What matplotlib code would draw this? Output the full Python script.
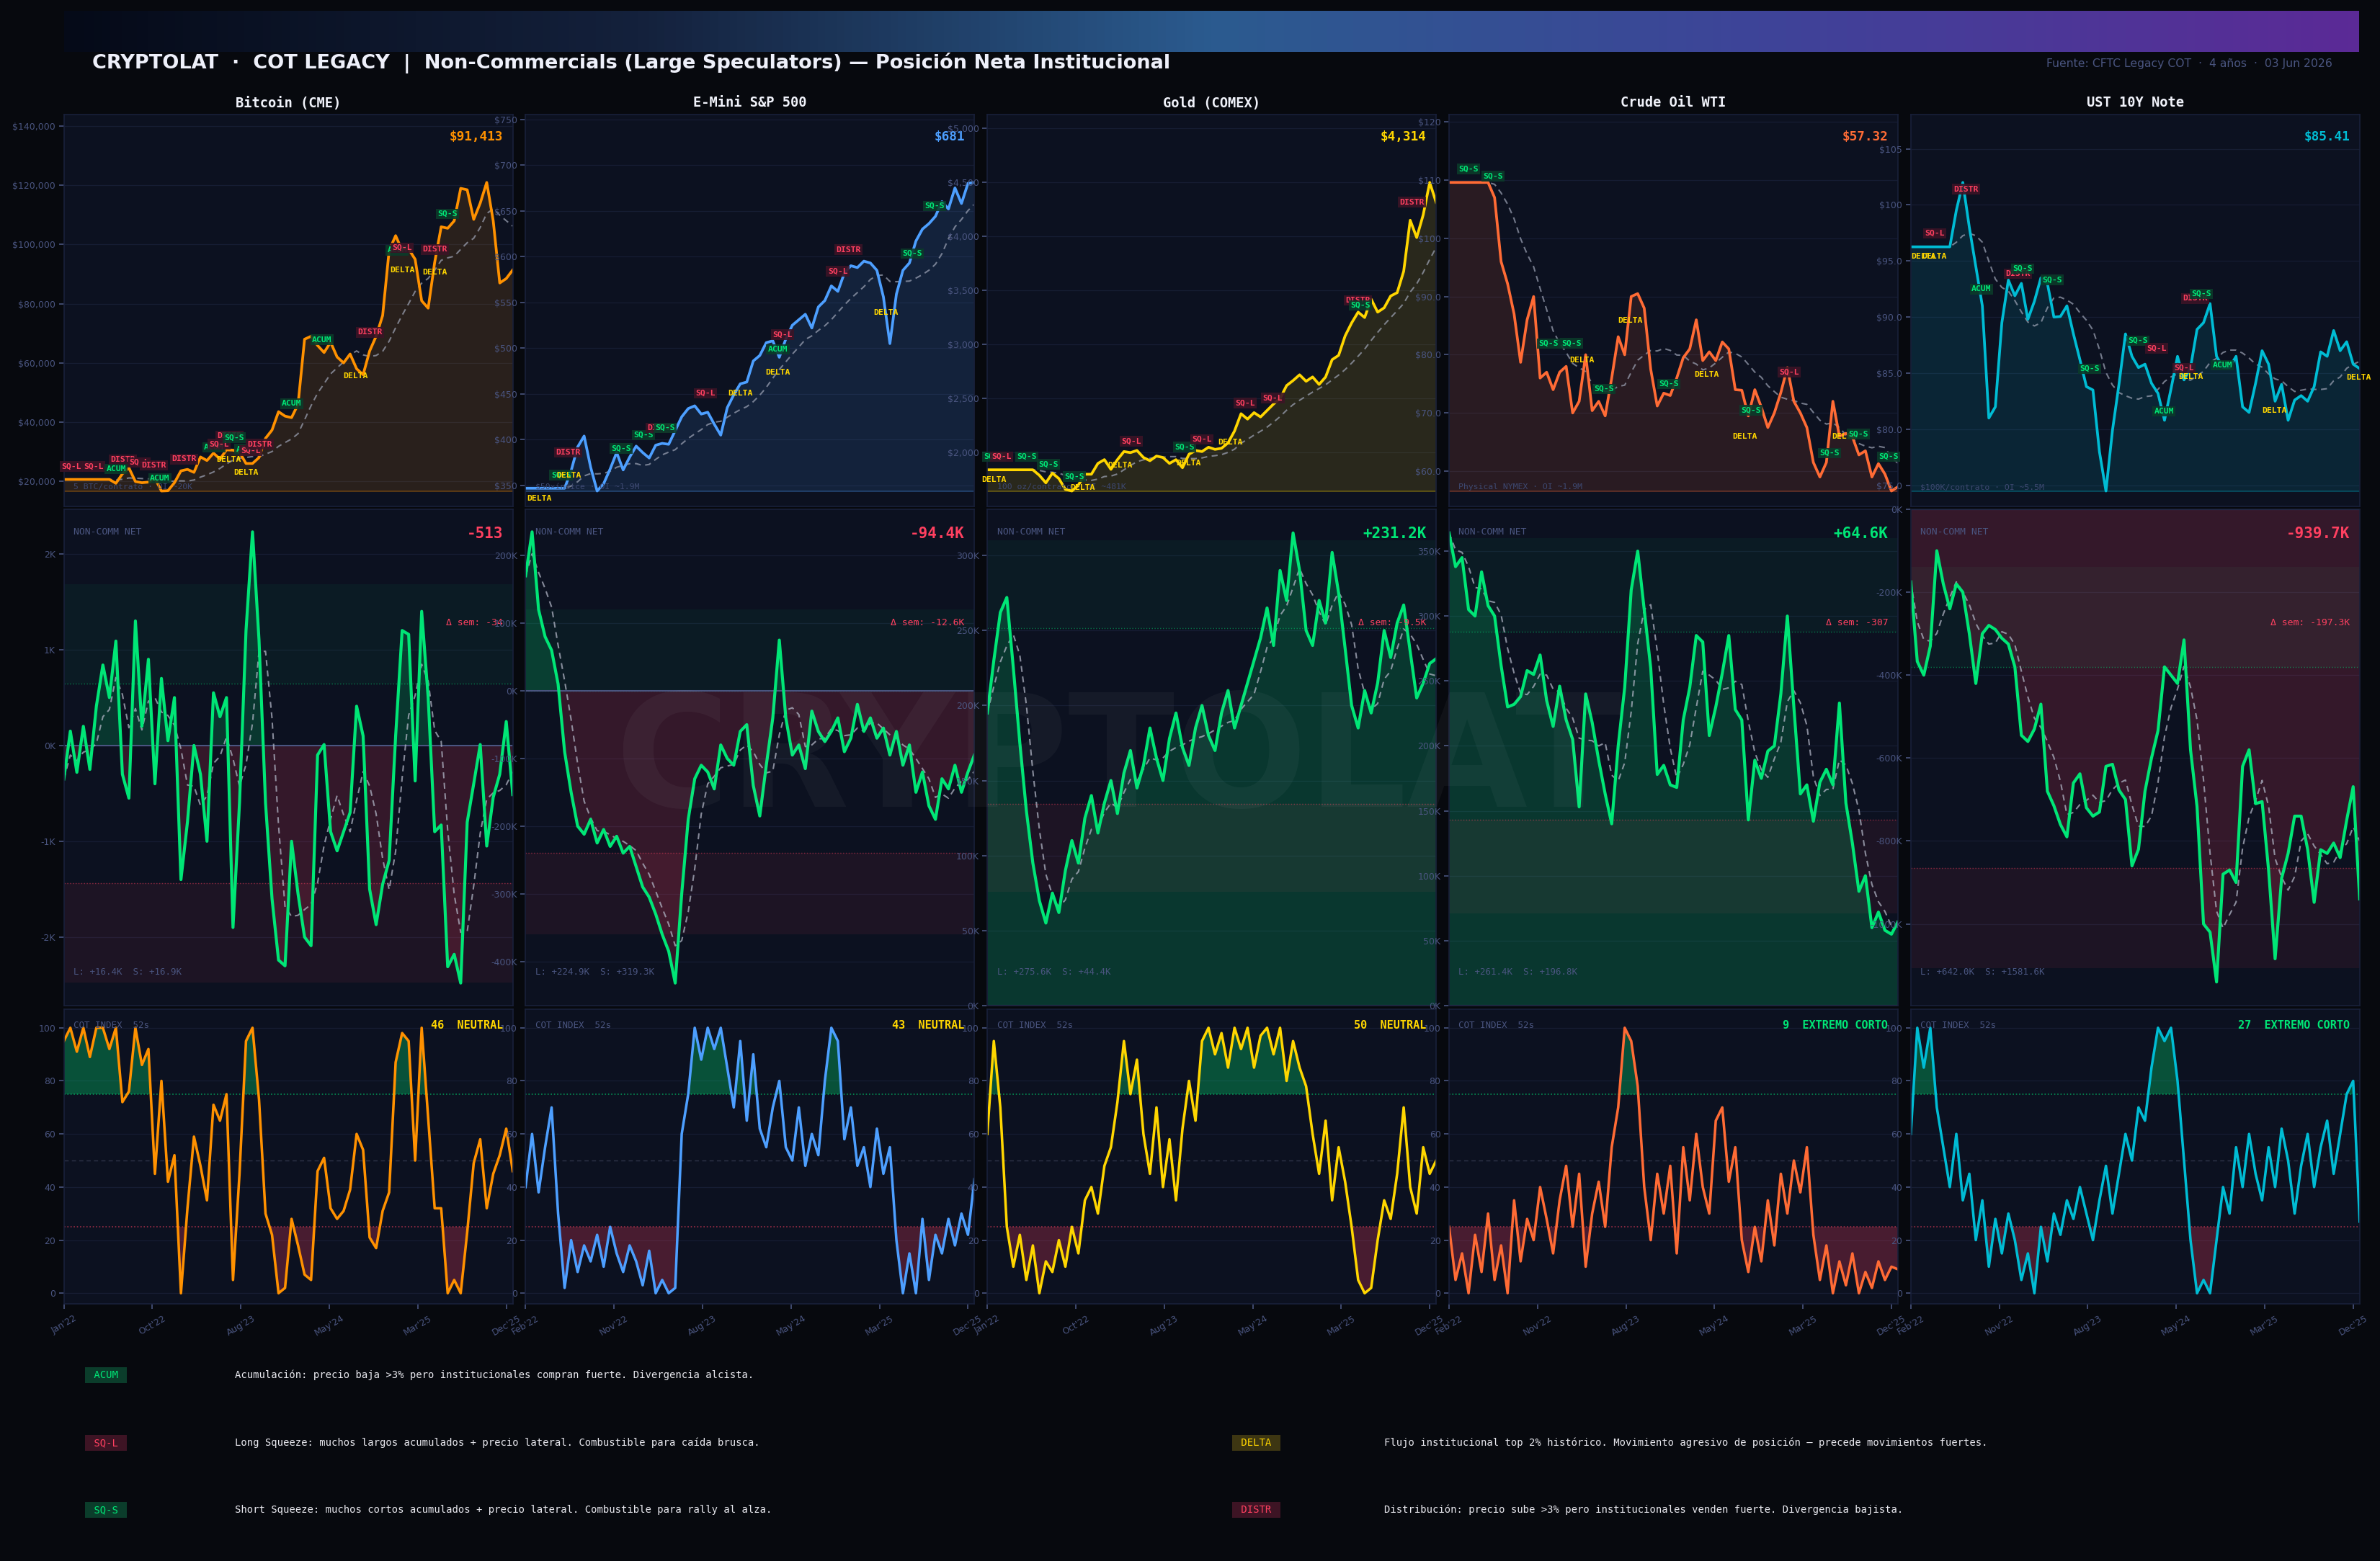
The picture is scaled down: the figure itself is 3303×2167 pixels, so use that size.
import numpy as np
import pandas as pd
import matplotlib
matplotlib.use("Agg")
import matplotlib.pyplot as plt
from matplotlib.ticker import FuncFormatter, MaxNLocator
from matplotlib.colors import LinearSegmentedColormap

# ======================= DATA =======================
assets = ["Bitcoin (CME)", "E-Mini S&P 500", "Gold (COMEX)", "Crude Oil WTI", "UST 10Y Note"]
weeks_span = 208
tick_weeks = [0, 41, 82, 123, 164, 205]
tick_labels = [
    ["Jan'22", "Oct'22", "Aug'23", "May'24", "Mar'25", "Dec'25"],
    ["Feb'22", "Nov'22", "Aug'23", "May'24", "Mar'25", "Dec'25"],
    ["Jan'22", "Oct'22", "Aug'23", "May'24", "Mar'25", "Dec'25"],
    ["Feb'22", "Nov'22", "Aug'23", "May'24", "Mar'25", "Dec'25"],
    ["Feb'22", "Nov'22", "Aug'23", "May'24", "Mar'25", "Dec'25"],
]

btc_price = [20600, 20600, 20600, 20600, 20600, 20600, 20600, 20600, 19300, 22500,
             24500, 19900, 19500, 19700, 21000, 16700, 16800, 19500, 23500, 24000,
             23000, 28200, 27000, 29500, 27500, 30600, 30500, 29800, 26000, 26000,
             28000, 34500, 37300, 43500, 42000, 41500, 46000, 68000, 69000, 65900,
             63500, 67000, 62000, 60000, 63000, 58000, 56000, 64000, 69000, 76000,
             98000, 103000, 98000, 98500, 95000, 81000, 78500, 94000, 106000, 105500,
             108000, 119000, 118500, 108500, 114000, 121000, 108000, 87000, 88500, 91413]
spx_price = [347, 347, 347, 347, 347, 347, 347, 366, 392, 404,
             370, 344, 352, 368, 386, 367, 381, 393, 386, 380,
             394, 396, 395, 410, 425, 434, 437, 428, 430, 417,
             405, 435, 449, 461, 463, 486, 492, 506, 508, 490,
             510, 525, 531, 537, 522, 545, 552, 568, 562, 582,
             590, 588, 595, 593, 585, 556, 505, 559, 585, 593,
             617, 630, 636, 644, 660, 652, 675, 658, 680, 681]
gold_price = [1841, 1841, 1841, 1841, 1841, 1841, 1841, 1841, 1790, 1720,
              1810, 1760, 1660, 1645, 1700, 1800, 1800, 1900, 1935, 1845,
              1935, 2010, 2000, 2020, 1955, 1925, 1968, 1955, 1900, 1935,
              1860, 1985, 2020, 2010, 2050, 2030, 2040, 2090, 2200, 2360,
              2310, 2370, 2330, 2390, 2450, 2500, 2620, 2667, 2720, 2660,
              2700, 2631, 2700, 2860, 2900, 3080, 3200, 3300, 3250, 3420,
              3300, 3340, 3449, 3480, 3678, 4150, 3990, 4200, 4500, 4314]
wti_price = [109.6, 109.6, 109.6, 109.6, 109.6, 109.6, 109.6, 107.0, 96.0, 92.2,
             87.0, 78.7, 86.0, 90.0, 76.0, 77.0, 74.0, 77.0, 78.0, 70.0,
             72.0, 80.0, 70.4, 72.0, 69.5, 76.0, 83.1, 80.0, 90.0, 90.5,
             88.0, 77.5, 71.2, 73.4, 73.0, 76.0, 79.5, 81.0, 86.0, 79.0,
             80.5, 79.0, 82.2, 81.0, 74.0, 73.9, 69.5, 74.0, 71.0, 67.5,
             70.0, 73.5, 77.8, 72.0, 70.0, 67.5, 61.5, 59.0, 61.5, 72.0,
             66.0, 66.5, 65.9, 62.8, 63.5, 59.0, 61.3, 59.5, 56.6, 57.32]
ust_price = [96.26, 96.26, 96.26, 96.26, 96.26, 96.26, 96.26, 99.5, 102.0, 98.0,
             94.5, 91.0, 81.0, 82.0, 89.5, 93.3, 91.9, 93.0, 89.8, 91.4,
             93.5, 93.0, 90.0, 90.05, 91.0, 88.5, 86.2, 83.8, 83.5, 78.0,
             74.5, 79.9, 84.0, 88.5, 86.5, 85.5, 85.8, 84.1, 83.2, 80.8,
             83.6, 86.5, 84.4, 85.5, 88.9, 89.5, 91.2, 86.5, 85.5, 85.5,
             86.5, 82.0, 81.5, 84.1, 87.0, 85.8, 82.5, 84.0, 80.8, 82.6,
             83.0, 82.5, 83.8, 86.9, 86.5, 88.8, 87.0, 87.8, 85.8, 85.41]

btc_net = [-350, 150, -280, 200, -250, 410, 840, 500, 1090, -300,
           -550, 1300, 200, 900, -400, 700, 50, 500, -1400, -800,
           0, -300, -1000, 550, 300, 500, -1900, -600, 1200, 2230,
           1100, -600, -1600, -2240, -2300, -1000, -1550, -2000, -2090, -100,
           10, -900, -1100, -900, -700, 410, 100, -1500, -1870, -1450,
           -1200, 100, 1200, 1160, -370, 1400, 500, -900, -830, -2310,
           -2180, -2480, -800, -400, 10, -1050, -540, -300, 250, -513]
spx_net = [170e3, 235e3, 120e3, 80e3, 60e3, 10e3, -90e3, -150e3, -200e3, -212e3,
           -190e3, -225e3, -205e3, -230e3, -215e3, -240e3, -230e3, -260e3, -290e3, -305e3,
           -330e3, -360e3, -385e3, -432e3, -300e3, -190e3, -130e3, -110e3, -120e3, -145e3,
           -80e3, -100e3, -110e3, -60e3, -50e3, -140e3, -185e3, -110e3, -40e3, 75e3,
           -40e3, -95e3, -80e3, -115e3, -30e3, -60e3, -75e3, -60e3, -40e3, -90e3,
           -70e3, -20e3, -60e3, -40e3, -70e3, -55e3, -95e3, -60e3, -110e3, -80e3,
           -150e3, -120e3, -170e3, -190e3, -130e3, -145e3, -110e3, -150e3, -120e3, -94.4e3]
gold_net = [195e3, 230e3, 262e3, 272e3, 225e3, 175e3, 130e3, 95e3, 70e3, 55e3,
            75e3, 62e3, 90e3, 110e3, 95e3, 125e3, 140e3, 115e3, 135e3, 150e3,
            128e3, 155e3, 170e3, 145e3, 160e3, 185e3, 165e3, 150e3, 178e3, 195e3,
            172e3, 160e3, 185e3, 200e3, 180e3, 170e3, 195e3, 210e3, 185e3, 200e3,
            215e3, 230e3, 245e3, 265e3, 240e3, 290e3, 270e3, 315e3, 290e3, 250e3,
            240e3, 270e3, 255e3, 302e3, 275e3, 238e3, 200e3, 185e3, 210e3, 195e3,
            215e3, 250e3, 232e3, 255e3, 267e3, 236e3, 205e3, 215e3, 228e3, 231.2e3]
wti_net = [364e3, 338e3, 345e3, 305e3, 300e3, 334e3, 308e3, 300e3, 262e3, 230e3,
           232e3, 238e3, 258e3, 255e3, 270e3, 235e3, 215e3, 246e3, 220e3, 205e3,
           153e3, 240e3, 218e3, 189e3, 163e3, 140e3, 200e3, 245e3, 320e3, 350e3,
           305e3, 260e3, 178e3, 185e3, 170e3, 168e3, 220e3, 245e3, 285e3, 280e3,
           208e3, 230e3, 256e3, 285e3, 228e3, 220e3, 143e3, 189e3, 175e3, 196e3,
           200e3, 240e3, 300e3, 230e3, 163e3, 170e3, 142e3, 172e3, 182e3, 170e3,
           233e3, 156e3, 125e3, 88e3, 100e3, 60e3, 72e3, 58e3, 55e3, 64.6e3]
ust_net = [-175e3, -367e3, -400e3, -330e3, -100e3, -180e3, -240e3, -180e3, -200e3, -300e3,
           -420e3, -300e3, -280e3, -290e3, -311e3, -325e3, -380e3, -545e3, -560e3, -530e3,
           -470e3, -680e3, -715e3, -760e3, -790e3, -660e3, -638e3, -720e3, -740e3, -730e3,
           -620e3, -615e3, -677e3, -700e3, -860e3, -820e3, -680e3, -600e3, -534e3, -380e3,
           -400e3, -420e3, -315e3, -580e3, -717e3, -1000e3, -1020e3, -1140e3, -880e3, -870e3,
           -900e3, -620e3, -580e3, -710e3, -705e3, -870e3, -1084e3, -890e3, -830e3, -740e3,
           -740e3, -820e3, -948e3, -821e3, -830e3, -805e3, -840e3, -750e3, -669e3, -939.7e3]

btc_cot = [95, 100, 91, 100, 89, 100, 100, 92, 100, 72,
           76, 100, 86, 92, 45, 80, 42, 52, 0, 32,
           59, 48, 35, 71, 65, 75, 5, 45, 95, 100,
           73, 30, 22, 0, 2, 28, 18, 7, 5, 46,
           51, 32, 28, 31, 39, 60, 54, 21, 17, 31,
           38, 87, 98, 95, 50, 100, 66, 32, 32, 0,
           5, 0, 23, 49, 58, 32, 45, 52, 62, 46]
spx_cot = [40, 60, 38, 55, 70, 30, 2, 20, 8, 18,
           12, 22, 10, 25, 15, 8, 18, 12, 3, 16,
           0, 5, 0, 2, 60, 75, 100, 88, 100, 92,
           100, 85, 70, 95, 65, 90, 62, 55, 70, 80,
           55, 50, 70, 48, 60, 52, 80, 100, 95, 58,
           70, 48, 55, 40, 62, 45, 55, 20, 0, 15,
           0, 28, 5, 22, 15, 28, 18, 30, 22, 43]
gold_cot = [60, 95, 70, 25, 10, 22, 5, 18, 0, 12,
            8, 20, 10, 25, 15, 35, 40, 30, 48, 55,
            72, 95, 75, 88, 60, 45, 70, 40, 58, 35,
            62, 80, 65, 95, 100, 90, 98, 85, 100, 92,
            100, 85, 97, 100, 90, 100, 80, 95, 85, 78,
            60, 45, 65, 35, 55, 42, 25, 5, 0, 2,
            20, 35, 28, 45, 70, 40, 30, 55, 45, 50]
wti_cot = [25, 5, 15, 0, 22, 8, 30, 5, 18, 0,
           35, 12, 28, 20, 40, 28, 15, 35, 48, 25,
           45, 10, 30, 42, 25, 55, 70, 100, 95, 78,
           40, 20, 45, 30, 48, 15, 55, 35, 60, 40,
           30, 65, 70, 42, 55, 20, 8, 25, 12, 35,
           18, 45, 30, 50, 38, 55, 22, 5, 18, 0,
           12, 3, 15, 0, 8, 2, 12, 5, 10, 9]
ust_cot = [60, 100, 85, 100, 70, 55, 40, 60, 35, 45,
           20, 35, 10, 28, 15, 30, 20, 5, 15, 0,
           25, 12, 30, 22, 35, 28, 40, 30, 20, 35,
           48, 30, 45, 60, 50, 70, 65, 85, 100, 95,
           100, 80, 50, 20, 0, 5, 0, 20, 40, 30,
           55, 40, 60, 45, 35, 55, 40, 62, 50, 30,
           48, 60, 40, 55, 65, 45, 60, 75, 80, 27]

net_mean = [-394, -120e3, 193e3, 215.4e3, -623e3]
net_std = [1040, 120e3, 58.5e3, 72.3e3, 242e3]
net_delta_week = [-34, -12.6e3, -9.5e3, -307, -197.3e3]
longs = [16.4e3, 224.9e3, 275.6e3, 261.4e3, 642.0e3]
shorts = [16.9e3, 319.3e3, 44.4e3, 196.8e3, 1581.6e3]
cot_status = ["NEUTRAL", "NEUTRAL", "NEUTRAL", "EXTREMO CORTO", "EXTREMO CORTO"]
contract_notes = ["5 BTC/contrato · OI ~20K", "$50×índice · OI ~1.9M",
                  "100 oz/contrato · OI ~481K", "Physical NYMEX · OI ~1.9M",
                  "$100K/contrato · OI ~5.5M"]

# signals: week, price level, tag
btc_sig_w = [3.5, 13.7, 27.2, 24.3, 34.9, 41.6, 44.5, 55.7, 69.5, 71.8, 76.8, 78.8, 76.3, 84.4,
             86.7, 90.7, 84.4, 105.5, 119.6, 135, 141.9, 154.5, 156.8, 157, 172, 172, 177.8]
btc_sig_y = [25000, 25000, 27300, 24100, 26300, 25400, 21000, 27500, 31500, 32500, 35300, 34800,
             27300, 30800, 30400, 32500, 22850, 46250, 67850, 55600, 70350, 98050, 98900, 91250,
             98300, 90550, 110300]
btc_sig_t = ["SQ-L", "SQ-L", "DISTR", "ACUM", "SQ-L", "DISTR", "ACUM", "DISTR", "ACUM", "SQ-L",
             "DISTR", "SQ-S", "DELTA", "ACUM", "SQ-L", "DISTR", "DELTA", "ACUM", "ACUM", "DELTA",
             "DISTR", "ACUM", "SQ-L", "DELTA", "DISTR", "DELTA", "SQ-S"]
spx_sig_w = [6.4, 19.8, 16.4, 20.0, 44.3, 54.5, 62.0, 64.7, 83.2, 99.6, 119.0, 116.9, 116.9,
             144.6, 149.6, 167.0, 179.3, 189.5]
spx_sig_y = [336, 386, 361.5, 360.6, 390.7, 405, 413, 413, 450.8, 450.8, 515, 498.6, 473.5,
             584, 607.4, 539, 603.3, 655.3]
spx_sig_t = ["DELTA", "DISTR", "SQ-S", "DELTA", "SQ-S", "SQ-S", "DISTR", "SQ-S", "SQ-L", "DELTA",
             "SQ-L", "ACUM", "DELTA", "SQ-L", "DISTR", "DELTA", "SQ-S", "SQ-S"]
gold_sig_w = [3.1, 6.7, 18.3, 28.3, 3.1, 40.4, 44.3, 61.6, 66.6, 91.5, 93.2, 99.4, 112.5,
              119.6, 132.3, 171.6, 172.8, 196.6]
gold_sig_y = [1962, 1962, 1962, 1892, 1752, 1777, 1677, 1885, 2106, 2054, 1902, 2121, 2094,
              2458, 2505, 3409, 3361, 4318]
gold_sig_t = ["SQ-S", "SQ-L", "SQ-S", "SQ-S", "DELTA", "SQ-S", "DELTA", "DELTA", "SQ-L", "SQ-S",
              "DELTA", "SQ-L", "DELTA", "SQ-L", "SQ-L", "DISTR", "SQ-S", "DISTR"]
wti_sig_w = [8.9, 20.4, 46.2, 56.8, 61.6, 71.8, 83.8, 101.9, 119.4, 139.8, 136.9, 157.5, 176.2,
             183.0, 189.5, 203.6]
wti_sig_y = [111.9, 110.7, 81.9, 82.0, 79.1, 74.1, 85.9, 75.0, 76.6, 70.5, 66.0, 77.0, 63.1,
             65.9, 66.4, 62.5]
wti_sig_t = ["SQ-S", "SQ-S", "SQ-S", "SQ-S", "DELTA", "SQ-S", "DELTA", "SQ-S", "DELTA", "SQ-S",
             "DELTA", "SQ-L", "SQ-S", "DELTA", "SQ-S", "SQ-S"]
ust_sig_w = [11.0, 6.0, 11.0, 25.6, 32.7, 49.7, 51.8, 65.5, 82.8, 105.2, 113.8, 117.3, 126.5,
             129.8, 131.9, 134.6, 144.4, 168.5, 207.6]
ust_sig_y = [97.45, 95.4, 95.4, 101.4, 92.5, 93.85, 94.3, 93.3, 85.4, 87.9, 87.2, 81.6, 85.45,
             84.7, 91.66, 92.07, 85.7, 81.66, 84.6]
ust_sig_t = ["SQ-L", "DELTA", "DELTA", "DISTR", "ACUM", "DISTR", "SQ-S", "SQ-S", "SQ-S", "SQ-S",
             "SQ-L", "ACUM", "SQ-L", "DELTA", "DISTR", "SQ-S", "ACUM", "DELTA", "DELTA"]

legend_tags = ["ACUM", "SQ-L", "SQ-S", "DELTA", "DISTR"]
legend_text = [
    "Acumulación: precio baja >3% pero institucionales compran fuerte. Divergencia alcista.",
    "Long Squeeze: muchos largos acumulados + precio lateral. Combustible para caída brusca.",
    "Short Squeeze: muchos cortos acumulados + precio lateral. Combustible para rally al alza.",
    "Flujo institucional top 2% histórico. Movimiento agresivo de posición — precede movimientos fuertes.",
    "Distribución: precio sube >3% pero institucionales venden fuerte. Divergencia bajista.",
]

prices = [btc_price, spx_price, gold_price, wti_price, ust_price]
nets = [btc_net, spx_net, gold_net, wti_net, ust_net]
cots = [btc_cot, spx_cot, gold_cot, wti_cot, ust_cot]
sig_w = [btc_sig_w, spx_sig_w, gold_sig_w, wti_sig_w, ust_sig_w]
sig_y = [btc_sig_y, spx_sig_y, gold_sig_y, wti_sig_y, ust_sig_y]
sig_t = [btc_sig_t, spx_sig_t, gold_sig_t, wti_sig_t, ust_sig_t]

# ======================= STYLE =======================
BG = "#07090e"
AX_BG = "#0c1120"
SPINE = "#19203a"
GRID = "#161d33"
TICK = "#4a5580"
GREEN = "#00e676"
RED = "#ff4060"
GOLD = "#ffd600"
MONO = "DejaVu Sans Mono"
asset_colors = ["#ff9100", "#4d9fff", "#ffd600", "#ff6b35", "#00bcd4"]
tag_style = {"ACUM": (GREEN, "#0b3b2a"), "SQ-S": (GREEN, "#0b3b2a"),
             "SQ-L": (RED, "#3b1426"), "DISTR": (RED, "#3b1426"),
             "DELTA": (GOLD, None)}
legend_bg = {"ACUM": "#0b3d2b", "SQ-S": "#0b3d2b", "SQ-L": "#3d1424",
             "DISTR": "#3d1424", "DELTA": "#3d3612"}

FW, FH = 3303, 2167
fig = plt.figure(figsize=(FW / 150, FH / 150), dpi=150, facecolor=BG)

# header gradient bar
hax = fig.add_axes([89 / FW, 1 - 72 / FH, (3274 - 89) / FW, 57 / FH])
cmap = LinearSegmentedColormap.from_list(
    "hdr", [(0, "#050a18"), (0.25, "#14213c"), (0.5, "#2b5b8f"), (0.75, "#3f4399"), (1, "#5b2a96")])
hax.imshow(np.linspace(0, 1, 600).reshape(1, -1), aspect="auto", cmap=cmap, extent=[0, 1, 0, 1])
hax.axis("off")

fig.text(128 / FW, 1 - 88 / FH,
         "CRYPTOLAT  ·  COT LEGACY  |  Non-Commercials (Large Speculators) — Posición Neta Institucional",
         ha="left", va="center", fontsize=13, fontweight="bold", color="#eef0fa")
fig.text(3237 / FW, 1 - 88 / FH, "Fuente: CFTC Legacy COT  ·  4 años  ·  03 Jun 2026",
         ha="right", va="center", fontsize=7.5, color=TICK)


def base_style(ax):
    ax.set_facecolor(AX_BG)
    for s in ax.spines.values():
        s.set_color(SPINE)
        s.set_linewidth(0.8)
    ax.tick_params(axis="y", colors=TICK, labelsize=6, length=3.5, width=0.8, pad=2)
    ax.tick_params(axis="x", colors=TICK, labelsize=6, length=3.5, width=0.8)
    ax.grid(axis="y", color=GRID, lw=0.6)
    ax.set_axisbelow(True)
    ax.set_xlim(0, weeks_span)


def price_fmt(v, pos):
    return f"${v:,.0f}" if abs(v) >= 100 else f"${v:.1f}"


def net_fmt(v, pos):
    return f"{v / 1e3:.0f}K"


def kfmt(v):
    return f"{v / 1e3:+.1f}K" if abs(v) >= 1000 else f"{v:+.0f}"


col_w = 623 / FW
for k in range(5):
    c = asset_colors[k]
    left = (88.6 + k * 640.8) / FW
    axp = fig.add_axes([left, 1 - 703 / FH, col_w, 544 / FH])
    axn = fig.add_axes([left, 1 - 1396 / FH, col_w, 689 / FH])
    axc = fig.add_axes([left, 1 - 1810 / FH, col_w, 409 / FH])
    for ax in (axp, axn, axc):
        base_style(ax)
    for ax in (axp, axn):
        ax.tick_params(axis="x", bottom=False, labelbottom=False)

    fig.text(left + col_w / 2, 1 - 143 / FH, assets[k], ha="center", va="center",
             fontsize=9, fontweight="bold", family=MONO, color="#f0f2fa")

    # ---------- price ----------
    p = np.array(prices[k], dtype=float)
    xs = np.linspace(0, weeks_span, len(p))
    ma = pd.Series(p).rolling(9, min_periods=1).mean().values
    pmin, pmax = p.min(), p.max()
    r = pmax - pmin
    axp.fill_between(xs, p, pmin, color=c, alpha=0.12, lw=0)
    axp.axhline(pmin, color=c, alpha=0.35, lw=0.8)
    axp.plot(xs, ma, color="#a0a6b8", lw=1.0, ls=(0, (4, 3)), alpha=0.7)
    axp.plot(xs, p, color=c, lw=1.8, solid_joinstyle="round")
    axp.set_ylim(pmin - 0.05 * r, pmax + 0.22 * r)
    axp.yaxis.set_major_locator(MaxNLocator(nbins=9, steps=[1, 2, 2.5, 5, 10]))
    axp.yaxis.set_major_formatter(FuncFormatter(price_fmt))
    last = p[-1]
    plabel = f"${last:,.0f}" if last >= 100 else f"${last:.2f}"
    axp.text(0.978, 0.943, plabel, transform=axp.transAxes, ha="right", va="center",
             fontsize=8.5, fontweight="bold", family=MONO, color=c)
    axp.text(0.0215, 0.049, contract_notes[k], transform=axp.transAxes, ha="left",
             va="center", fontsize=5.5, family=MONO, color="#3d4870")
    for w, yv, t in zip(sig_w[k], sig_y[k], sig_t[k]):
        fc, bc = tag_style[t]
        kw = dict(ha="center", va="center", fontsize=5.5, fontweight="bold", family=MONO,
                  color=fc, zorder=6)
        if bc is not None:
            kw["bbox"] = dict(boxstyle="square,pad=0.2", fc=bc, ec="none", alpha=0.9)
        axp.text(w, yv, t, **kw)

    # ---------- net ----------
    n = np.array(nets[k], dtype=float)
    xn = np.linspace(0, weeks_span, len(n))
    nma = pd.Series(n).rolling(4, min_periods=1).mean().values
    mu, sd = net_mean[k], net_std[k]
    nlo, nhi = min(n.min(), 0), max(n.max(), 0)
    rn = nhi - nlo
    bottom = nlo - 0.05 * rn if n.min() < 0 else 0
    top = nhi + 0.05 * rn if n.max() > 0 else 0
    axn.set_ylim(bottom, top)
    axn.axhspan(mu + sd, mu + 2 * sd, color=GREEN, alpha=0.05, lw=0)
    axn.axhspan(mu - 2 * sd, mu - sd, color=RED, alpha=0.07, lw=0)
    axn.axhline(mu + sd, color=GREEN, lw=0.7, ls=":", alpha=0.45)
    axn.axhline(mu - sd, color=RED, lw=0.7, ls=":", alpha=0.45)
    axn.fill_between(xn, 0, n, where=n >= 0, interpolate=True, color=GREEN, alpha=0.18, lw=0)
    axn.fill_between(xn, 0, n, where=n <= 0, interpolate=True, color=RED, alpha=0.17, lw=0)
    axn.axhline(0, color=TICK, lw=1.0)
    axn.plot(xn, nma, color="#b0b4c4", lw=1.0, ls=(0, (4, 3)), alpha=0.75)
    axn.plot(xn, n, color=GREEN, lw=2.0, solid_joinstyle="round")
    axn.yaxis.set_major_locator(MaxNLocator(nbins=9, steps=[1, 2, 2.5, 5, 10]))
    axn.yaxis.set_major_formatter(FuncFormatter(net_fmt))
    ncol = GREEN if n[-1] >= 0 else RED
    axn.text(0.0215, 0.954, "NON-COMM NET", transform=axn.transAxes, ha="left", va="center",
             fontsize=6.3, family=MONO, color=TICK)
    axn.text(0.978, 0.95, kfmt(n[-1]), transform=axn.transAxes, ha="right", va="center",
             fontsize=10, fontweight="bold", family=MONO, color=ncol)
    dv = net_delta_week[k]
    axn.text(0.978, 0.772, "Δ sem: " + kfmt(dv).replace("+", "+" if dv >= 0 else ""),
             transform=axn.transAxes, ha="right", va="center", fontsize=6.3, family=MONO,
             color=GREEN if dv >= 0 else RED)
    axn.text(0.0215, 0.068, f"L: +{longs[k] / 1e3:.1f}K  S: +{shorts[k] / 1e3:.1f}K",
             transform=axn.transAxes, ha="left", va="center", fontsize=6, family=MONO, color=TICK)

    # ---------- COT index ----------
    ci = np.array(cots[k], dtype=float)
    xc = np.linspace(0, weeks_span, len(ci))
    axc.set_ylim(-4, 107)
    axc.set_yticks([0, 20, 40, 60, 80, 100])
    axc.axhline(75, color=GREEN, lw=0.8, ls=":", alpha=0.6)
    axc.axhline(25, color=RED, lw=0.8, ls=":", alpha=0.6)
    axc.axhline(50, color="#7a82a0", lw=0.7, ls=(0, (4, 3)), alpha=0.3)
    axc.fill_between(xc, ci, 75, where=ci >= 75, interpolate=True, color=GREEN, alpha=0.3, lw=0)
    axc.fill_between(xc, ci, 25, where=ci <= 25, interpolate=True, color=RED, alpha=0.25, lw=0)
    axc.plot(xc, ci, color=c, lw=1.7, solid_joinstyle="round")
    axc.text(0.0215, 0.946, "COT INDEX  52s", transform=axc.transAxes, ha="left", va="center",
             fontsize=6, family=MONO, color=TICK)
    st = cot_status[k]
    axc.text(0.978, 0.946, f"{ci[-1]:.0f}  {st}", transform=axc.transAxes, ha="right",
             va="center", fontsize=7.3, fontweight="bold", family=MONO,
             color=GOLD if st == "NEUTRAL" else GREEN)
    axc.set_xticks(tick_weeks)
    axc.set_xticklabels(tick_labels[k], rotation=30, ha="center")
    axc.tick_params(axis="x", pad=3)

# watermark
fig.text(0.47, 0.511, "CRYPTOLAT", fontsize=104, fontweight="bold", color="#ffffff",
         alpha=0.04, ha="center", va="center")

# legend
leg_pos = [(0, 0), (0, 1), (0, 2), (1, 1), (1, 2)]
badge_x = [122 / FW, 1714 / FW]
text_x = [326 / FW, 1921 / FW]
row_y = [1 - 1909 / FH, 1 - 2003 / FH, 1 - 2096 / FH]
for tag, desc, (cc, rr) in zip(legend_tags, legend_text, leg_pos):
    fc = tag_style[tag][0]
    fig.text(badge_x[cc], row_y[rr], f" {tag} ", ha="left", va="center", fontsize=6.7,
             family=MONO, color=fc,
             bbox=dict(boxstyle="square,pad=0.3", fc=legend_bg[tag], ec="none"))
    fig.text(text_x[cc], row_y[rr], desc, ha="left", va="center", fontsize=6.7,
             family=MONO, color="#e8e8ee")

fig.savefig("out.png", dpi=150, facecolor=BG)
